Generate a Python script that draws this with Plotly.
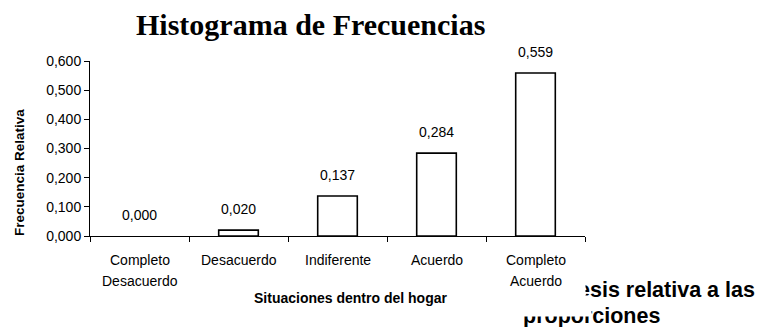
import plotly.graph_objects as go

# Frequency data: categories (line-broken labels) and relative frequencies
categories = ["Completo\nDesacuerdo", "Desacuerdo", "Indiferente", "Acuerdo", "Completo\nAcuerdo"]
rel_freq = [0.000, 0.020, 0.137, 0.284, 0.559]
y_ticks = [0.0, 0.1, 0.2, 0.3, 0.4, 0.5, 0.6]

W, H = 765, 327
L, R, T, B = 90, 180, 61, 91
PW, PH = W - L - R, H - T - B


def px_x(px):
    return (px - L) / PW


def px_y(py):
    return (H - B - py) / PH


def fmt(v):
    return f"{v:.3f}".replace(".", ",")


FONT = "Liberation Sans, Arial, sans-serif"

fig = go.Figure()
fig.add_trace(go.Bar(
    x=categories,
    y=rel_freq,
    width=0.4,
    marker=dict(color="white",
                line=dict(color="black", width=[1.6 if v > 0 else 0 for v in rel_freq])),
    hoverinfo="skip",
))

ann = []
# value labels above the bars
for c, v in zip(categories, rel_freq):
    ann.append(dict(x=c, y=v, xref="x", yref="y", text=fmt(v), showarrow=False,
                    yanchor="bottom", yshift=11, font=dict(family=FONT, size=14, color="black")))
# category labels, one line per annotation for wider line spacing
for c in categories:
    for i, line in enumerate(c.split("\n")):
        ann.append(dict(x=c, y=px_y(260 + 21 * i), xref="x", yref="paper", text=line,
                        showarrow=False, yanchor="middle",
                        font=dict(family=FONT, size=14, color="black")))
# axis titles
ann.append(dict(x=px_x(350), y=px_y(298), xref="paper", yref="paper",
                text="<b>Situaciones dentro del hogar</b>", showarrow=False, yanchor="middle",
                font=dict(family=FONT, size=14, color="black")))
ann.append(dict(x=px_x(19), y=px_y(173), xref="paper", yref="paper", textangle=-90,
                text="<b>Frecuencia Relativa</b>", showarrow=False, xanchor="center", yanchor="middle",
                font=dict(family=FONT, size=13.5, color="black")))
# chart title
ann.append(dict(x=px_x(310), y=px_y(25), xref="paper", yref="paper",
                text="<b>Histograma de Frecuencias</b>", showarrow=False, yanchor="middle",
                font=dict(family="Liberation Serif, Times New Roman, serif", size=30, color="black")))
# surrounding document text
ann.append(dict(x=px_x(576), y=px_y(290), xref="paper", yref="paper",
                text="<b>esis relativa a las</b>", showarrow=False, xanchor="left", yanchor="middle",
                font=dict(family=FONT, size=21.5, color="black")))
ann.append(dict(x=px_x(521), y=px_y(316), xref="paper", yref="paper",
                text="<b>proporciones</b>", showarrow=False, xanchor="left", yanchor="middle",
                font=dict(family=FONT, size=21.5, color="black")))
# white boxes partly hiding the document text
ann.append(dict(x=px_x(565), y=px_y(278), xref="paper", yref="paper", text=" ",
                showarrow=False, xanchor="left", yanchor="top", width=19, height=26,
                bgcolor="white", borderpad=0, font=dict(size=4)))
ann.append(dict(x=px_x(505), y=px_y(295), xref="paper", yref="paper", text=" ",
                showarrow=False, xanchor="left", yanchor="top", width=85, height=20,
                bgcolor="white", borderpad=0, font=dict(size=4)))

fig.update_layout(
    width=W, height=H,
    margin=dict(l=L, r=R, t=T, b=B),
    paper_bgcolor="white", plot_bgcolor="white",
    separators=",.",
    showlegend=False,
    bargap=0.6,
    annotations=ann,
    xaxis=dict(
        type="category", showticklabels=False, showgrid=False, zeroline=False,
        showline=True, linecolor="black", linewidth=1,
        ticks="outside", tickson="boundaries", ticklen=5, tickcolor="black", tickwidth=1,
    ),
    yaxis=dict(
        range=[0, 0.6], tickvals=y_ticks, tickformat=".3f",
        showgrid=False, zeroline=False,
        showline=True, linecolor="black", linewidth=1,
        ticks="outside", ticklen=5, tickcolor="black", tickwidth=1,
        tickfont=dict(family=FONT, size=14, color="black"),
    ),
)

fig.write_html("out.html")
